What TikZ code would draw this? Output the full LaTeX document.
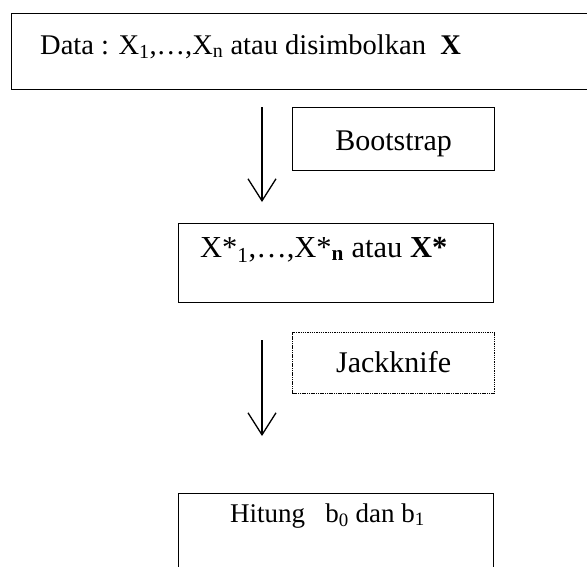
\documentclass[tikz,border=0pt]{standalone}
\usepackage{fontspec}
\setmainfont{Liberation Serif}
\usetikzlibrary{arrows.meta}
\begin{document}
\begin{tikzpicture}[x=1pt,y=-1pt,
  frame/.style={draw, line width=1.3pt, rectangle, inner sep=0pt, anchor=north west},
  dotframe/.style={frame, dash pattern=on 1.1pt off 0.7pt},
  txt/.style={font=\fontsize{28.5}{33}\selectfont, inner sep=0pt},
  boxtxt/.style={font=\fontsize{30}{34}\selectfont, inner sep=0pt},
  flow/.style={line width=1.3pt, -{Straight Barb[length=22pt,width=28pt,line width=1.3pt]}}]
\useasboundingbox (0,0) rectangle (587,566);
\clip (0,0) rectangle (587,566);
% boxes
\node[frame, minimum width=600pt, minimum height=76pt] (data) at (11,13) {};
\node[frame, minimum width=202pt, minimum height=63pt] (boot) at (292,107) {};
\node[frame, minimum width=315pt, minimum height=79pt] (xstar) at (178,223) {};
\node[dotframe, minimum width=202pt, minimum height=61pt] (jack) at (292,332) {};
\node[frame, minimum width=315pt, minimum height=120pt] (hit) at (178,493) {};
% texts
\node[txt, anchor=base west] (tdata) at (40,54) {Data : X\textsubscript{1},…,X\textsubscript{n} atau disimbolkan \ \textbf{X}};
\node[boxtxt, anchor=base] (tboot) at (boot.center |- 0,150) {Bootstrap};
\node[txt, font=\fontsize{30.5}{34}\selectfont, anchor=base west] (txstar) at (200,257) {X*\textsubscript{1},…,X*\textsubscript{\textbf{n}} atau \textbf{X*}};
\node[boxtxt, anchor=base] (tjack) at (jack.center |- 0,372) {Jackknife};
\node[txt, font=\fontsize{27}{31}\selectfont, anchor=base west] (thit) at (230,522) {Hitung \ \ b\textsubscript{0} dan b\textsubscript{1}};
% arrows
\coordinate (a1s) at (262,107);
\coordinate (a1e) at (262,202);
\coordinate (a2s) at (262,340);
\coordinate (a2e) at (262,436);
\draw[flow] (a1s) -- (a1e);
\draw[flow] (a2s) -- (a2e);
\end{tikzpicture}
\end{document}
